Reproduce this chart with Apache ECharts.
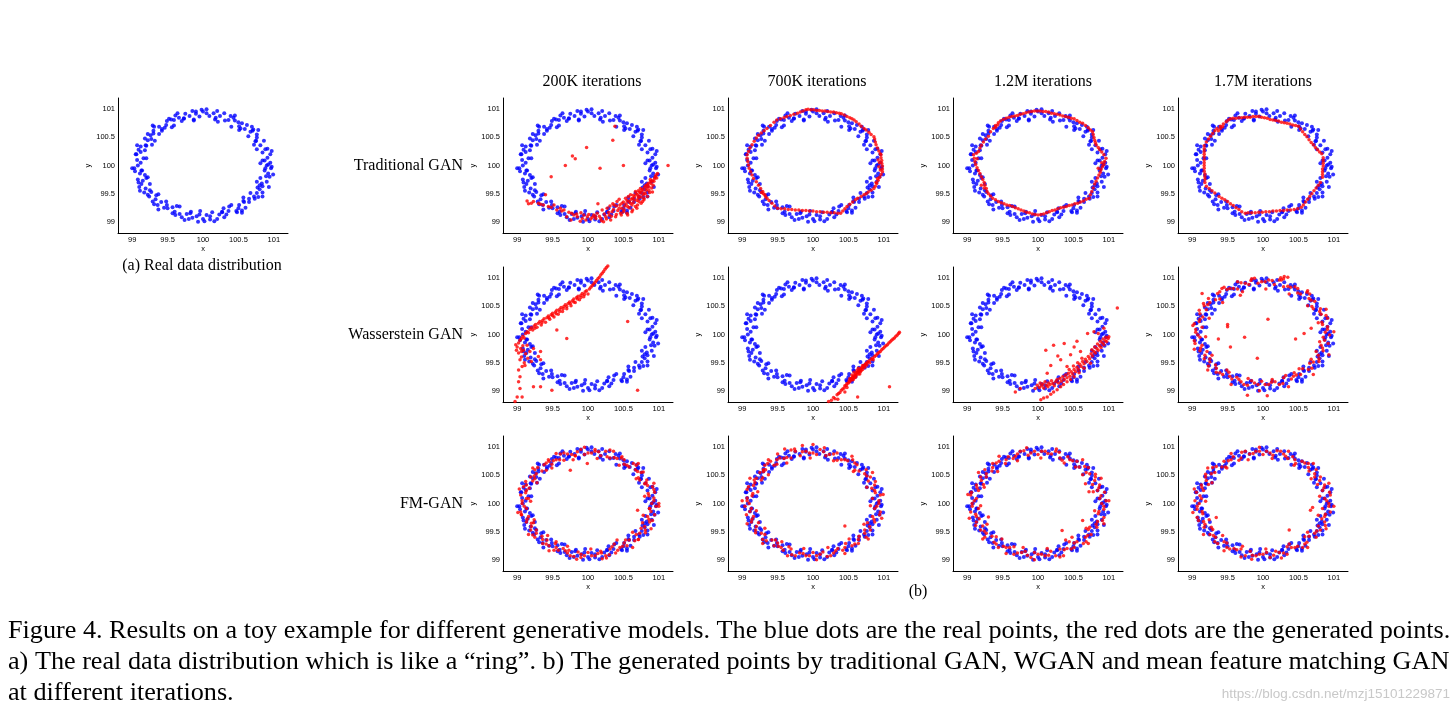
<!DOCTYPE html>
<html><head><meta charset="utf-8">
<script src="https://cdn.jsdelivr.net/npm/echarts@6/dist/echarts.min.js"></script>
<style>html,body{margin:0;padding:0;background:#fff}#c{width:1455px;height:713px}</style>
</head><body><div id="c"></div>
<script>
const tickValues=[99,99.5,100,100.5,101];
const axisRange=[98.8,101.2];
const columnTitles=['200K iterations','700K iterations','1.2M iterations','1.7M iterations'];
const rowTitles=['Traditional GAN','Wasserstein GAN','FM-GAN'];
const captionLines=['Figure 4. Results on a toy example for different generative models. The blue dots are the real points, the red dots are the generated points.',
'a) The real data distribution which is like a \u201cring\u201d. b) The generated points by traditional GAN, WGAN and mean feature matching GAN',
'at different iterations.'];

const realPoints=[[100.90,100.00],[100.95,100.05],[100.84,100.09],[100.91,100.14],[100.95,100.20],[100.84,100.23],[100.88,100.29],[100.76,100.29],[100.81,100.36],[100.86,100.44],[100.74,100.43],[100.76,100.50],[100.76,100.55],[100.64,100.52],[100.67,100.60],[100.69,100.69],[100.59,100.65],[100.53,100.66],[100.55,100.75],[100.50,100.77],[100.40,100.69],[100.43,100.85],[100.36,100.81],[100.31,100.80],[100.30,100.93],[100.24,100.88],[100.17,100.82],[100.15,100.93],[100.09,100.88],[100.05,100.93],
[100.00,100.96],[99.95,100.87],[99.90,100.92],[99.87,100.82],[99.81,100.88],[99.75,100.92],[99.73,100.84],[99.70,100.79],[99.61,100.89],[99.59,100.81],[99.59,100.71],[99.49,100.79],[99.48,100.72],[99.46,100.67],[99.38,100.69],[99.31,100.69],[99.38,100.56],[99.30,100.57],[99.26,100.54],[99.27,100.47],[99.18,100.48],[99.28,100.37],[99.19,100.36],[99.12,100.34],[99.18,100.27],[99.12,100.24],[99.05,100.20],[99.16,100.13],[99.07,100.10],[99.12,100.05],
[99.08,100.00],[99.03,99.95],[99.14,99.91],[99.11,99.86],[99.18,99.83],[99.08,99.75],[99.15,99.73],[99.13,99.67],[99.25,99.67],[99.19,99.59],[99.17,99.52],[99.27,99.53],[99.24,99.45],[99.34,99.47],[99.33,99.40],[99.31,99.31],[99.41,99.35],[99.48,99.36],[99.45,99.25],[99.50,99.24],[99.57,99.26],[99.57,99.15],[99.67,99.27],[99.67,99.14],[99.70,99.08],[99.77,99.14],[99.83,99.18],[99.85,99.07],[99.91,99.10],[99.95,99.13],
[100.00,99.05],[100.05,99.12],[100.10,99.10],[100.13,99.17],[100.20,99.05],[100.23,99.13],[100.27,99.18],[100.33,99.13],[100.36,99.19],[100.37,99.27],[100.47,99.19],[100.50,99.24],[100.51,99.30],[100.60,99.25],[100.57,99.37],[100.65,99.35],[100.65,99.41],[100.73,99.41],[100.67,99.51],[100.76,99.51],[100.84,99.52],[100.77,99.61],[100.84,99.63],[100.83,99.68],[100.90,99.71],[100.81,99.78],[100.89,99.81],[100.92,99.86],[100.87,99.91],[100.96,99.95],
[100.92,100.02],[100.88,99.95],[100.93,99.62],[100.80,99.58],[100.70,100.62],[100.45,100.80],[100.20,100.97],[99.98,100.99],[99.85,100.97],[99.66,100.85],[99.55,100.82],[99.42,100.62],[99.22,100.45],[99.09,100.28],[99.04,99.90],[99.10,99.62],[99.22,99.48],[99.36,99.30],[99.60,99.18],[99.80,99.05],[100.02,99.01],[100.30,99.08],[100.55,99.20],[100.72,99.45],[100.97,99.98],[100.62,100.72],[99.30,100.62],[99.20,99.78],[99.93,99.00],[100.40,99.30],
[100.81,100.04],[100.97,100.26],[100.72,100.37],[100.78,100.63],[100.51,100.63],[100.45,100.89],[100.21,100.78],[100.05,101.00],[99.87,100.80],[99.64,100.93],[99.56,100.68],[99.29,100.71],[99.32,100.44],[99.07,100.36],[99.20,100.13],[99.00,99.95],[99.22,99.79],[99.11,99.55],[99.37,99.49],[99.37,99.22],[99.63,99.28],[99.74,99.03],[99.96,99.19],[100.16,99.01],[100.29,99.24],[100.55,99.16],[100.57,99.43],[100.84,99.45],[100.76,99.71],[100.99,99.84],
[100.87,100.09],[100.91,100.30],[100.75,100.44],[100.71,100.64],[100.51,100.70],[100.39,100.88],[100.18,100.85],[99.90,100.96],[99.73,100.83],[99.52,100.83],[99.42,100.65],[99.22,100.56],[99.20,100.35],[99.06,100.20],[99.13,99.91],[99.09,99.70],[99.25,99.56],[99.29,99.36],[99.49,99.30],[99.61,99.12],[99.82,99.15],[100.10,99.04],[100.27,99.17],[100.48,99.17],[100.58,99.35],[100.78,99.44],[100.80,99.65],[100.94,99.80]];

const trad200K=[[100.38,100.70],[100.35,100.45],[99.98,100.32],[99.78,100.17],[99.82,100.12],[99.68,100.00],[100.17,99.95],[100.50,100.00],[101.13,100.00],[99.48,99.80],[100.14,99.32],
[99.14,99.37],[99.16,99.32],[99.23,99.36],[99.30,99.33],[99.40,99.48],[99.37,99.30],[99.44,99.27],[99.52,99.30],[99.61,99.24],[99.66,99.21],[99.73,99.17],[99.76,99.03],[99.80,99.12],[99.85,99.09],[99.89,99.01],[99.94,99.12],[99.99,99.09],[100.04,99.05],[100.08,99.12],[100.13,99.15],[100.18,99.06],[100.22,99.00],[100.20,99.21],[100.27,99.24],[100.30,99.12],[100.34,99.18],[100.37,99.30],[100.39,99.09],[100.44,99.24],[100.46,99.15],[100.48,99.33],[100.51,99.21],[100.53,99.42],[100.56,99.27],[100.58,99.36],[100.60,99.48],[100.63,99.21],[100.65,99.39],[100.67,99.54],[100.70,99.30],[100.72,99.45],[100.74,99.59],[100.77,99.36],[100.79,99.51],[100.82,99.65],[100.84,99.45],[100.86,99.56],[100.88,99.71],[100.91,99.53],[100.92,99.65],[100.94,99.77],[100.96,99.83],[100.98,99.86],[100.84,99.65],[100.41,99.36],[100.48,99.24],[100.56,99.12],[100.60,99.33],[100.67,99.27],[100.72,99.36],[100.79,99.42],[100.74,99.51],[100.63,99.42],[100.70,99.48],[100.82,99.56],[100.89,99.68],[100.25,99.09],[100.32,99.03],[100.11,99.06],[99.97,99.03],[99.70,99.09],[99.56,99.21],
[100.45,99.30],[100.52,99.28],[100.55,99.38],[100.62,99.30],[100.66,99.45],[100.69,99.38],[100.75,99.44],[100.78,99.48],[100.81,99.50],[100.86,99.62],[100.90,99.60],[100.93,99.72],[100.87,99.52],[100.76,99.55],[100.71,99.55],[100.64,99.34],[100.58,99.25],[100.50,99.18],[100.42,99.20],[100.36,99.22],[100.29,99.17],[100.23,99.14],[100.16,99.10],[100.06,99.08],[99.92,99.06],[99.84,99.14],[99.77,99.15],[99.63,99.19],[99.48,99.26],[99.33,99.31],[99.20,99.33],[99.90,99.16],[100.01,99.13],[100.10,99.10],
[100.50,99.35],[100.54,99.32],[100.57,99.45],[100.61,99.40],[100.64,99.47],[100.68,99.50],[100.71,99.42],[100.73,99.53],[100.77,99.58],[100.80,99.62],[100.83,99.60],[100.85,99.68],[100.88,99.75],[100.91,99.73],[100.95,99.80],[100.97,99.78],[100.79,99.39],[100.75,99.33],[100.69,99.24],[100.62,99.18],[100.55,99.15],[100.47,99.12],[100.40,99.13],[100.33,99.10],[100.26,99.05],[100.19,99.02],[100.44,99.40],[100.40,99.28],[100.35,99.32],[100.31,99.28]];

const trad700K=[[99.78,100.93],[99.82,100.95],[99.86,100.97],[99.90,100.99],[99.93,101.00],[99.97,100.99],[100.01,100.99],[100.05,100.98],[100.09,100.98],[100.13,100.97],[100.17,100.97],[100.21,100.96],[100.25,100.95],[100.29,100.95],[100.33,100.94],[100.37,100.93],[100.40,100.92],
[100.44,100.90],[100.48,100.87],[100.52,100.85],[100.55,100.83],[100.58,100.81],
[100.61,100.78],[100.65,100.74],[100.68,100.70],[100.72,100.66],[100.75,100.63],[100.79,100.59],[100.82,100.55],[100.86,100.51],
[100.87,100.47],[100.88,100.42],[100.89,100.37],[100.91,100.31],[100.93,100.26],[100.95,100.21],[100.96,100.19],
[100.96,100.14],[100.97,100.09],[100.97,100.04],[100.98,99.99],[100.98,99.94],[100.98,99.89],[100.94,100.05],[100.93,99.98],[100.95,99.92],[100.92,100.10],
[100.96,99.84],[100.94,99.79],[100.92,99.74],[100.90,99.68],[100.88,99.63],[100.86,99.59],[100.89,99.70],[100.91,99.77],
[100.82,99.56],[100.78,99.53],[100.75,99.50],[100.72,99.48],[100.68,99.45],[100.63,99.42],
[100.60,99.39],[100.56,99.35],[100.52,99.31],[100.48,99.27],[100.45,99.23],[100.42,99.19],[100.39,99.15],
[100.35,99.15],[100.30,99.16],[100.25,99.16],[100.20,99.17],[100.15,99.17],[100.10,99.18],[100.05,99.18],[100.00,99.19],[99.95,99.19],[99.90,99.20],[99.85,99.20],[99.80,99.21],[99.75,99.21],[99.70,99.22],[99.65,99.22],[99.60,99.23],[99.55,99.23],[99.50,99.24],
[99.46,99.28],[99.42,99.33],[99.38,99.38],[99.35,99.42],[99.32,99.48],[99.29,99.54],[99.26,99.59],[99.30,99.50],[99.27,99.52],[99.33,99.45],
[99.23,99.65],[99.20,99.71],[99.16,99.77],[99.14,99.83],[99.12,99.89],[99.10,99.95],[99.09,100.01],
[99.08,100.07],[99.07,100.13],[99.07,100.19],[99.09,100.25],[99.11,100.31],
[99.14,100.37],[99.17,100.43],[99.20,100.49],[99.23,100.54],[99.27,100.58],[99.31,100.62],[99.35,100.66],[99.40,100.71],[99.45,100.77],[99.49,100.81],
[99.54,100.83],[99.59,100.85],[99.63,100.87],[99.68,100.89],[99.73,100.91]];

const trad1200K=[[99.33,100.60],[99.37,100.66],[99.40,100.71],[99.44,100.76],[99.47,100.79],[99.51,100.82],[99.55,100.84],[99.59,100.86],[99.63,100.87],[99.67,100.88],[99.71,100.89],[99.75,100.91],[99.79,100.92],[99.83,100.94],[99.87,100.95],[99.91,100.96],[99.95,100.97],[99.99,100.97],[100.03,100.97],[100.07,100.96],[100.11,100.96],[100.15,100.95],[100.19,100.93],[100.23,100.92],[100.27,100.91],[100.31,100.90],[100.35,100.88],[100.39,100.87],[100.43,100.86],[100.47,100.84],[100.51,100.83],[100.55,100.80],[100.59,100.77],[100.63,100.75],[100.67,100.71],[100.71,100.67],[100.74,100.63],[100.77,100.60],[100.78,100.55],[100.79,100.50],[100.80,100.45],[100.81,100.41],[100.82,100.37],[100.85,100.32],[100.87,100.28],[100.90,100.24],[100.93,100.19],[100.96,100.13],[100.94,100.07],[100.93,100.02],[100.91,99.98],[100.89,99.93],[100.88,99.88],[100.86,99.83],[100.84,99.78],[100.82,99.72],[100.80,99.67],[100.78,99.60],[100.76,99.54],[100.74,99.48],[100.72,99.42],[100.68,99.40],[100.64,99.37],[100.60,99.35],[100.56,99.33],[100.52,99.32],[100.48,99.30],[100.44,99.29],[100.40,99.27],[100.36,99.26],[100.32,99.25],[100.28,99.23],[100.24,99.21],[100.20,99.20],[100.16,99.18],[100.12,99.16],[100.08,99.14],[100.04,99.13],[100.00,99.12],[99.96,99.13],[99.92,99.14],[99.88,99.16],[99.84,99.17],[99.80,99.19],[99.76,99.21],[99.72,99.23],[99.68,99.25],[99.64,99.27],[99.60,99.29],[99.56,99.30],[99.52,99.32],[99.48,99.34],[99.44,99.36],[99.40,99.39],[99.36,99.42],[99.33,99.46],[99.30,99.50],[99.28,99.54],[99.27,99.59],[99.25,99.65],[99.24,99.70],[99.22,99.75],[99.20,99.80],[99.18,99.86],[99.16,99.91],[99.14,99.96],[99.12,100.02],[99.11,100.07],[99.10,100.13],[99.09,100.19],[99.13,100.22],[99.16,100.25],[99.18,100.31],[99.20,100.36],[99.23,100.42],[99.26,100.47],[99.30,100.52],[99.20,99.65],[99.24,99.60],[99.14,100.12],[100.90,100.05],[100.85,99.95],[99.40,100.68],[99.43,100.72]];

const trad1700K=[[99.54,100.83],[99.58,100.84],[99.62,100.84],[99.66,100.85],[99.70,100.85],[99.74,100.86],[99.78,100.86],[99.82,100.86],[99.86,100.87],[99.90,100.87],[99.94,100.87],
[99.98,100.86],[100.02,100.85],[100.06,100.84],[100.10,100.82],[100.14,100.81],[100.18,100.80],[100.22,100.79],[100.26,100.77],[100.30,100.76],[100.34,100.75],[100.38,100.74],[100.42,100.72],[100.46,100.71],[100.50,100.70],
[100.53,100.65],[100.56,100.60],[100.59,100.55],[100.62,100.51],[100.65,100.46],[100.68,100.41],[100.71,100.37],[100.74,100.32],[100.77,100.28],[100.80,100.24],[100.83,100.21],
[100.85,100.14],[100.85,100.09],[100.85,100.04],[100.85,99.99],[100.84,99.94],[100.84,99.89],[100.84,99.84],[100.84,99.79],
[100.81,99.70],[100.78,99.65],[100.75,99.60],[100.72,99.55],[100.69,99.50],[100.66,99.45],[100.63,99.40],[100.60,99.35],[100.57,99.30],[100.54,99.26],
[100.49,99.23],[100.44,99.22],[100.39,99.21],[100.34,99.21],[100.29,99.20],[100.24,99.20],[100.19,99.19],[100.14,99.19],[100.09,99.18],[100.04,99.18],[99.99,99.17],[99.94,99.17],[99.89,99.16],[99.84,99.16],[99.79,99.16],[99.75,99.15],
[99.70,99.18],[99.66,99.22],[99.62,99.25],[99.58,99.29],[99.54,99.32],[99.50,99.36],[99.46,99.39],[99.42,99.42],[99.38,99.45],
[99.32,99.51],[99.28,99.55],[99.24,99.59],[99.20,99.63],
[99.18,99.70],[99.18,99.75],[99.18,99.80],[99.18,99.85],[99.17,99.90],[99.17,99.95],[99.17,100.00],[99.17,100.05],[99.17,100.10],[99.17,100.15],[99.17,100.20],[99.17,100.25],[99.17,100.30],[99.17,100.35],
[99.20,100.42],[99.23,100.47],[99.26,100.52],[99.29,100.57],[99.32,100.62],[99.35,100.66],
[99.40,100.70],[99.44,100.74],[99.48,100.78],[99.51,100.81],[99.37,100.62],[99.40,100.66],[99.43,100.69]];

const wgan200K=[[99.00,99.78],[98.98,99.82],[99.02,99.85],[99.04,99.90],[99.06,99.93],[99.08,99.97],[99.10,99.94],[99.12,100.02],[99.14,100.05],[99.16,100.03],[99.18,100.09],[99.20,100.12],[99.22,100.08],[99.24,100.15],[99.26,100.18],[99.28,100.13],[99.30,100.20],[99.32,100.23],[99.34,100.17],[99.36,100.25],[99.38,100.28],[99.40,100.22],[99.42,100.30],[99.44,100.33],[99.46,100.27],[99.48,100.35],[99.50,100.38],[99.52,100.31],[99.54,100.40],[99.56,100.43],[99.58,100.36],[99.60,100.45],[99.62,100.48],[99.64,100.41],[99.66,100.50],[99.68,100.53],[99.70,100.46],[99.72,100.55],[99.74,100.58],[99.76,100.51],[99.78,100.60],[99.80,100.63],[99.82,100.57],[99.84,100.66],[99.86,100.68],[99.88,100.62],[99.90,100.70],[99.92,100.73],[99.94,100.67],[99.96,100.76],[99.98,100.78],[100.00,100.72],[100.02,100.81],[100.04,100.84],[100.06,100.87],[100.08,100.90],[100.10,100.93],[100.12,100.96],[100.14,100.99],[100.16,101.02],[100.18,101.06],[100.20,101.09],[100.22,101.12],[100.24,101.16],[100.26,101.19],[100.28,101.22],
[99.45,100.30],[99.55,100.37],[99.65,100.46],[99.75,100.55],[99.85,100.63],[99.95,100.71],[99.50,100.34],[99.60,100.41],[99.70,100.50],[99.80,100.58],[99.90,100.66],[99.35,100.21],[99.25,100.11],
[99.02,99.67],[99.04,99.55],[99.07,99.43],[99.02,99.37],[99.09,99.72],[99.14,99.81],[99.18,99.70],[99.23,99.75],[99.33,99.70],[99.30,99.61],[99.02,99.16],[99.04,99.04],[99.00,98.89],[98.97,98.81],[99.23,99.07],[99.33,99.07],[99.49,99.01],[99.07,98.89],[99.70,99.93],[99.56,100.08],[100.56,100.23],[100.70,99.01],[99.33,99.55],[99.06,99.60],[99.10,99.50],[99.12,99.66],[99.05,99.75],[99.08,99.80],[99.15,99.58],[99.20,99.52],[99.04,99.25],[99.11,99.45],[98.99,99.72],[99.06,99.70]];

const wgan700K=[[100.22,98.81],[100.26,98.83],[100.29,98.88],[100.31,98.86],[100.34,98.93],[100.36,98.95],[100.38,98.97],[100.40,99.01],[100.42,99.03],[100.44,99.05],[100.45,99.09],[100.47,99.10],[100.48,99.13],[100.50,99.14],[100.51,99.18],[100.52,99.16],[100.53,99.20],[100.54,99.22],[100.55,99.19],[100.56,99.24],[100.57,99.26],[100.58,99.23],[100.59,99.28],[100.60,99.30],[100.61,99.27],[100.62,99.32],[100.63,99.33],[100.64,99.30],[100.65,99.35],[100.66,99.37],[100.67,99.34],[100.68,99.40],[100.69,99.41],[100.70,99.38],[100.71,99.43],[100.72,99.45],[100.73,99.42],[100.74,99.47],[100.75,99.49],[100.76,99.46],[100.77,99.51],[100.79,99.53],[100.80,99.50],[100.82,99.56],[100.84,99.58],[100.85,99.55],[100.87,99.61],[100.89,99.63],[100.91,99.66],[100.93,99.68],[100.95,99.70],[100.97,99.73],[100.99,99.75],[101.01,99.78],[101.03,99.80],[101.05,99.82],[101.07,99.85],[101.09,99.87],[101.11,99.90],[101.13,99.92],[101.15,99.94],[101.17,99.97],[101.19,99.99],[101.21,100.02],[101.22,100.04],
[100.55,99.28],[100.58,99.33],[100.62,99.36],[100.66,99.30],[100.60,99.24],[100.52,99.22],[100.64,99.40],[100.68,99.36],[100.70,99.45],[100.57,99.20],
[101.08,99.07],[100.63,98.89],[100.45,98.98],[100.35,98.85],[100.48,99.06]];

const wgan1200K=[[99.99,99.10],[100.02,99.06],[100.03,99.14],[100.05,99.09],[100.07,99.12],[100.08,99.05],[100.10,99.16],[100.12,99.10],[100.14,99.07],[100.15,99.14],[100.17,99.11],[100.19,99.18],[100.21,99.13],[100.23,99.09],[100.25,99.16],[100.27,99.20],[100.29,99.14],[100.31,99.22],[100.33,99.17],[100.35,99.25],[100.37,99.20],[100.39,99.28],[100.41,99.23],[100.43,99.31],[100.45,99.26],[100.47,99.34],[100.49,99.30],[100.51,99.38],[100.53,99.34],[100.55,99.42],[100.57,99.38],[100.59,99.47],[100.61,99.43],[100.63,99.52],[100.65,99.48],[100.67,99.56],[100.69,99.52],[100.71,99.61],[100.73,99.57],[100.75,99.66],[100.77,99.62],[100.79,99.70],[100.81,99.67],[100.83,99.75],[100.85,99.72],[100.87,99.80],[100.89,99.77],[100.91,99.85],[100.93,99.82],[100.95,99.89],[100.97,99.87],[100.99,99.93],[101.00,99.96],[100.96,99.95],[100.92,99.92],[100.88,99.88],[100.84,99.83],[100.80,99.78],[100.76,99.73],[100.62,99.58],[100.56,99.50],[100.50,99.44],[100.44,99.38],
[100.11,99.72],[100.22,99.81],[100.37,99.84],[100.51,99.78],[100.70,100.02],[101.12,100.47],[100.32,99.55],[100.13,99.31],[100.41,99.43],[100.79,100.05],[100.93,100.11],[100.28,99.62],[100.46,99.64],[100.60,99.70],[100.18,99.45],[100.55,99.88],[100.85,100.02],
[100.04,98.84],[100.13,98.89],[100.22,98.98],[100.32,99.07],[100.41,99.16],[100.51,99.25],[100.65,99.40],[100.74,99.49],[100.08,98.87],[100.18,98.94],[100.27,99.02],[100.36,99.11],[100.46,99.20],[100.58,99.32],[99.68,98.98],[99.75,99.04],[99.96,99.04]];

const wgan1700K=[[100.88,100.04],[100.91,100.14],[100.83,100.22],[100.89,100.34],[100.80,100.41],[100.71,100.46],[100.73,100.59],[100.65,100.64],[100.62,100.75],[100.49,100.74],[100.45,100.85],[100.35,100.86],[100.29,100.99],[100.16,100.89],[100.08,100.97],
[99.98,100.94],[99.88,101.00],[99.80,100.89],[99.69,100.92],[99.64,100.81],[99.53,100.82],[99.42,100.82],[99.36,100.73],[99.33,100.62],[99.25,100.57],[99.17,100.51],[99.10,100.43],[99.15,100.31],[99.10,100.23],[99.14,100.13],
[99.05,100.04],[99.11,99.95],[99.04,99.84],[99.12,99.76],[99.21,99.70],[99.17,99.57],[99.25,99.51],[99.33,99.46],[99.34,99.33],[99.43,99.29],[99.53,99.26],[99.63,99.24],[99.69,99.16],[99.78,99.10],[99.88,99.14],
[99.98,99.17],[100.08,99.11],[100.17,99.16],[100.28,99.13],[100.32,99.27],[100.43,99.26],[100.53,99.29],[100.56,99.39],[100.69,99.40],[100.71,99.51],[100.79,99.57],[100.75,99.70],[100.84,99.76],[100.92,99.84],[100.85,99.95],
[100.91,100.09],[100.84,100.18],[100.91,100.29],[100.82,100.36],[100.81,100.46],[100.69,100.50],[100.68,100.61],[100.66,100.72],[100.53,100.72],[100.49,100.82],[100.39,100.84],[100.29,100.85],[100.23,100.97],[100.13,100.96],[100.03,100.94],
[99.93,100.91],[99.83,100.96],[99.75,100.91],[99.64,100.94],[99.58,100.82],[99.49,100.80],[99.39,100.76],[99.39,100.63],[99.23,100.64],[99.22,100.53],[99.20,100.44],[99.11,100.37],[99.11,100.27],[99.03,100.19],[99.05,100.09],
[99.08,99.99],[99.03,99.89],[99.14,99.81],[99.11,99.71],[99.18,99.63],[99.25,99.57],[99.23,99.44],[99.34,99.40],[99.39,99.32],[99.52,99.33],[99.56,99.21],[99.66,99.20],[99.73,99.11],[99.84,99.18],[99.93,99.11],
[100.03,99.11],[100.12,99.15],[100.23,99.11],[100.29,99.23],[100.40,99.21],[100.47,99.28],[100.51,99.39],[100.64,99.38],[100.66,99.49],[100.79,99.52],[100.78,99.63],[100.85,99.71],[100.82,99.81],[100.87,99.90],[100.94,99.99],
[99.19,99.96],[99.03,99.74],[99.28,99.63],[99.22,99.37],[99.49,99.37],[99.55,99.11],[99.79,99.22],[99.95,99.00],[100.13,99.20],[100.36,99.07],[100.44,99.32],[100.71,99.29],[100.68,99.56],[100.93,99.64],[100.80,99.87],[101.00,100.05],[100.78,100.21],[100.89,100.45],[100.63,100.51],[100.63,100.78],[100.37,100.72],[100.26,100.97],[100.04,100.81],[99.84,100.99],[99.71,100.76],[99.45,100.84],[99.43,100.57],[99.16,100.55],[99.24,100.29],[99.01,100.16],
[99.14,100.73],[99.50,100.14],[99.50,100.18],[99.37,99.92],[99.54,99.78],[99.74,99.95],[99.92,99.58],[100.07,100.27],[100.58,100.02],[100.46,99.92],[100.68,100.11],[99.78,98.92],[100.06,98.91],[99.68,100.70],[100.30,101.03],[100.35,101.02],[100.25,101.01]];

const fm200K=[[100.90,100.00],[100.93,100.10],[100.85,100.18],[100.91,100.30],[100.82,100.37],[100.73,100.42],[100.75,100.55],[100.67,100.60],[100.64,100.71],[100.51,100.70],[100.47,100.81],[100.37,100.82],[100.31,100.95],[100.18,100.85],[100.10,100.93],
[100.00,100.90],[99.90,100.96],[99.82,100.85],[99.71,100.88],[99.66,100.77],[99.55,100.78],[99.44,100.78],[99.38,100.69],[99.35,100.58],[99.27,100.53],[99.19,100.47],[99.12,100.39],[99.17,100.27],[99.12,100.19],[99.16,100.09],
[99.07,100.00],[99.13,99.91],[99.06,99.80],[99.14,99.72],[99.23,99.66],[99.19,99.53],[99.27,99.47],[99.35,99.42],[99.36,99.29],[99.45,99.25],[99.55,99.22],[99.65,99.20],[99.71,99.12],[99.80,99.06],[99.90,99.10],
[100.00,99.13],[100.10,99.07],[100.19,99.12],[100.30,99.09],[100.34,99.23],[100.45,99.22],[100.55,99.25],[100.58,99.35],[100.71,99.36],[100.73,99.47],[100.81,99.53],[100.77,99.66],[100.86,99.72],[100.94,99.80],[100.87,99.91],
[100.93,100.05],[100.86,100.14],[100.93,100.25],[100.84,100.32],[100.83,100.42],[100.71,100.46],[100.70,100.57],[100.68,100.68],[100.55,100.68],[100.51,100.78],[100.41,100.80],[100.31,100.81],[100.25,100.93],[100.15,100.92],[100.05,100.90],
[99.95,100.87],[99.85,100.92],[99.77,100.87],[99.66,100.90],[99.60,100.78],[99.51,100.76],[99.41,100.72],[99.41,100.59],[99.25,100.60],[99.24,100.49],[99.22,100.40],[99.13,100.33],[99.13,100.23],[99.05,100.15],[99.07,100.05],
[99.10,99.95],[99.05,99.85],[99.16,99.77],[99.13,99.67],[99.20,99.59],[99.27,99.53],[99.25,99.40],[99.36,99.36],[99.41,99.28],[99.54,99.29],[99.58,99.17],[99.68,99.16],[99.75,99.07],[99.86,99.14],[99.95,99.07],
[100.05,99.07],[100.14,99.11],[100.25,99.07],[100.31,99.19],[100.42,99.17],[100.49,99.24],[100.53,99.35],[100.66,99.34],[100.68,99.45],[100.81,99.48],[100.80,99.59],[100.87,99.67],[100.84,99.77],[100.89,99.86],[100.96,99.95],
[99.19,100.04],[99.03,100.26],[99.28,100.37],[99.22,100.63],[99.49,100.63],[99.55,100.89],[99.79,100.78],[99.95,101.00],[100.13,100.80],[100.36,100.93],[100.44,100.68],[100.71,100.71],[100.68,100.44],[100.93,100.36],[100.80,100.13],[101.00,99.95],[100.78,99.79],[100.89,99.55],[100.63,99.49],[100.63,99.22],[100.37,99.28],[100.26,99.03],[100.04,99.19],[99.84,99.01],[99.71,99.24],[99.45,99.16],[99.43,99.43],[99.16,99.45],[99.24,99.71],[99.01,99.84],
[99.13,100.09],[99.09,100.30],[99.25,100.44],[99.29,100.64],[99.49,100.70],[99.61,100.88],[99.82,100.85],[100.10,100.96],[100.27,100.83],[100.48,100.83],[100.58,100.65],[100.78,100.56],[100.80,100.35],[100.94,100.20],[100.87,99.91],[100.91,99.70],[100.75,99.56],[100.71,99.36],[100.51,99.30],[100.39,99.12],[100.18,99.15],[99.90,99.04],[99.73,99.17],[99.52,99.17],[99.42,99.35],[99.22,99.44],[99.20,99.65],[99.06,99.80],
[99.75,100.59],[99.99,100.71],[100.70,99.88],[100.41,99.35],[101.00,100.00],[99.55,99.32],[100.20,99.02],[99.45,100.75]];

const fm700K=[[99.10,100.00],[99.07,100.10],[99.15,100.18],[99.09,100.30],[99.18,100.37],[99.27,100.42],[99.25,100.55],[99.33,100.60],[99.36,100.71],[99.49,100.70],[99.53,100.81],[99.63,100.82],[99.69,100.95],[99.82,100.85],[99.90,100.93],
[100.00,100.90],[100.10,100.96],[100.18,100.85],[100.29,100.88],[100.34,100.77],[100.45,100.78],[100.56,100.78],[100.62,100.69],[100.65,100.58],[100.73,100.53],[100.81,100.47],[100.88,100.39],[100.83,100.27],[100.88,100.19],[100.84,100.09],
[100.93,100.00],[100.87,99.91],[100.94,99.80],[100.86,99.72],[100.77,99.66],[100.81,99.53],[100.73,99.47],[100.65,99.42],[100.64,99.29],[100.55,99.25],[100.45,99.22],[100.35,99.20],[100.29,99.12],[100.20,99.06],[100.10,99.10],
[100.00,99.13],[99.90,99.07],[99.81,99.12],[99.70,99.09],[99.66,99.23],[99.55,99.22],[99.45,99.25],[99.42,99.35],[99.29,99.36],[99.27,99.47],[99.19,99.53],[99.23,99.66],[99.14,99.72],[99.06,99.80],[99.13,99.91],
[99.07,100.05],[99.14,100.14],[99.07,100.25],[99.16,100.32],[99.17,100.42],[99.29,100.46],[99.30,100.57],[99.32,100.68],[99.45,100.68],[99.49,100.78],[99.59,100.80],[99.69,100.81],[99.75,100.93],[99.85,100.92],[99.95,100.90],
[100.05,100.87],[100.15,100.92],[100.23,100.87],[100.34,100.90],[100.40,100.78],[100.49,100.76],[100.59,100.72],[100.59,100.59],[100.75,100.60],[100.76,100.49],[100.78,100.40],[100.87,100.33],[100.87,100.23],[100.95,100.15],[100.93,100.05],
[100.90,99.95],[100.95,99.85],[100.84,99.77],[100.87,99.67],[100.80,99.59],[100.73,99.53],[100.75,99.40],[100.64,99.36],[100.59,99.28],[100.46,99.29],[100.42,99.17],[100.32,99.16],[100.25,99.07],[100.14,99.14],[100.05,99.07],
[99.95,99.07],[99.86,99.11],[99.75,99.07],[99.69,99.19],[99.58,99.17],[99.51,99.24],[99.47,99.35],[99.34,99.34],[99.32,99.45],[99.19,99.48],[99.20,99.59],[99.13,99.67],[99.16,99.77],[99.11,99.86],[99.04,99.95],
[100.81,99.96],[100.97,99.74],[100.72,99.63],[100.78,99.37],[100.51,99.37],[100.45,99.11],[100.21,99.22],[100.05,99.00],[99.87,99.20],[99.64,99.07],[99.56,99.32],[99.29,99.29],[99.32,99.56],[99.07,99.64],[99.20,99.87],[99.00,100.05],[99.22,100.21],[99.11,100.45],[99.37,100.51],[99.37,100.78],[99.63,100.72],[99.74,100.97],[99.96,100.81],[100.16,100.99],[100.29,100.76],[100.55,100.84],[100.57,100.57],[100.84,100.55],[100.76,100.29],[100.99,100.16],
[99.20,100.45],[99.30,100.60],[99.40,100.75],[99.50,100.88],[99.60,100.97],[99.85,101.03],[100.00,101.05],[100.45,99.60],[99.50,99.30]];

const fm1200K=[[100.90,100.00],[100.93,99.90],[100.85,99.82],[100.91,99.70],[100.82,99.63],[100.73,99.58],[100.75,99.45],[100.67,99.40],[100.64,99.29],[100.51,99.30],[100.47,99.19],[100.37,99.18],[100.31,99.05],[100.18,99.15],[100.10,99.07],
[100.00,99.10],[99.90,99.04],[99.82,99.15],[99.71,99.12],[99.66,99.23],[99.55,99.22],[99.44,99.22],[99.38,99.31],[99.35,99.42],[99.27,99.47],[99.19,99.53],[99.12,99.61],[99.17,99.73],[99.12,99.81],[99.16,99.91],
[99.07,100.00],[99.13,100.09],[99.06,100.20],[99.14,100.28],[99.23,100.34],[99.19,100.47],[99.27,100.53],[99.35,100.58],[99.36,100.71],[99.45,100.75],[99.55,100.78],[99.65,100.80],[99.71,100.88],[99.80,100.94],[99.90,100.90],
[100.00,100.87],[100.10,100.93],[100.19,100.88],[100.30,100.91],[100.34,100.77],[100.45,100.78],[100.55,100.75],[100.58,100.65],[100.71,100.64],[100.73,100.53],[100.81,100.47],[100.77,100.34],[100.86,100.28],[100.94,100.20],[100.87,100.09],
[100.93,99.95],[100.86,99.86],[100.93,99.75],[100.84,99.68],[100.83,99.58],[100.71,99.54],[100.70,99.43],[100.68,99.32],[100.55,99.32],[100.51,99.22],[100.41,99.20],[100.31,99.19],[100.25,99.07],[100.15,99.08],[100.05,99.10],
[99.95,99.13],[99.85,99.08],[99.77,99.13],[99.66,99.10],[99.60,99.22],[99.51,99.24],[99.41,99.28],[99.41,99.41],[99.25,99.40],[99.24,99.51],[99.22,99.60],[99.13,99.67],[99.13,99.77],[99.05,99.85],[99.07,99.95],
[99.10,100.05],[99.05,100.15],[99.16,100.23],[99.13,100.33],[99.20,100.41],[99.27,100.47],[99.25,100.60],[99.36,100.64],[99.41,100.72],[99.54,100.71],[99.58,100.83],[99.68,100.84],[99.75,100.93],[99.86,100.86],[99.95,100.93],
[100.05,100.93],[100.14,100.89],[100.25,100.93],[100.31,100.81],[100.42,100.83],[100.49,100.76],[100.53,100.65],[100.66,100.66],[100.68,100.55],[100.81,100.52],[100.80,100.41],[100.87,100.33],[100.84,100.23],[100.89,100.14],[100.96,100.05],
[99.19,99.96],[99.03,99.74],[99.28,99.63],[99.22,99.37],[99.49,99.37],[99.55,99.11],[99.79,99.22],[99.95,99.00],[100.13,99.20],[100.36,99.07],[100.44,99.32],[100.71,99.29],[100.68,99.56],[100.93,99.64],[100.80,99.87],[101.00,100.05],[100.78,100.21],[100.89,100.45],[100.63,100.51],[100.63,100.78],[100.37,100.72],[100.26,100.97],[100.04,100.81],[99.84,100.99],[99.71,100.76],[99.45,100.84],[99.43,100.57],[99.16,100.55],[99.24,100.29],[99.01,100.16],
[99.30,99.76],[100.63,99.70],[100.34,99.52],[100.67,100.35],[100.72,100.21],[100.39,99.35],[100.48,99.40]];

const fm1700K=[[99.10,100.00],[99.07,99.90],[99.15,99.82],[99.09,99.70],[99.18,99.63],[99.27,99.58],[99.25,99.45],[99.33,99.40],[99.36,99.29],[99.49,99.30],[99.53,99.19],[99.63,99.18],[99.69,99.05],[99.82,99.15],[99.90,99.07],
[100.00,99.10],[100.10,99.04],[100.18,99.15],[100.29,99.12],[100.34,99.23],[100.45,99.22],[100.56,99.22],[100.62,99.31],[100.65,99.42],[100.73,99.47],[100.81,99.53],[100.88,99.61],[100.83,99.73],[100.88,99.81],[100.84,99.91],
[100.93,100.00],[100.87,100.09],[100.94,100.20],[100.86,100.28],[100.77,100.34],[100.81,100.47],[100.73,100.53],[100.65,100.58],[100.64,100.71],[100.55,100.75],[100.45,100.78],[100.35,100.80],[100.29,100.88],[100.20,100.94],[100.10,100.90],
[100.00,100.87],[99.90,100.93],[99.81,100.88],[99.70,100.91],[99.66,100.77],[99.55,100.78],[99.45,100.75],[99.42,100.65],[99.29,100.64],[99.27,100.53],[99.19,100.47],[99.23,100.34],[99.14,100.28],[99.06,100.20],[99.13,100.09],
[99.07,99.95],[99.14,99.86],[99.07,99.75],[99.16,99.68],[99.17,99.58],[99.29,99.54],[99.30,99.43],[99.32,99.32],[99.45,99.32],[99.49,99.22],[99.59,99.20],[99.69,99.19],[99.75,99.07],[99.85,99.08],[99.95,99.10],
[100.05,99.13],[100.15,99.08],[100.23,99.13],[100.34,99.10],[100.40,99.22],[100.49,99.24],[100.59,99.28],[100.59,99.41],[100.75,99.40],[100.76,99.51],[100.78,99.60],[100.87,99.67],[100.87,99.77],[100.95,99.85],[100.93,99.95],
[100.90,100.05],[100.95,100.15],[100.84,100.23],[100.87,100.33],[100.80,100.41],[100.73,100.47],[100.75,100.60],[100.64,100.64],[100.59,100.72],[100.46,100.71],[100.42,100.83],[100.32,100.84],[100.25,100.93],[100.14,100.86],[100.05,100.93],
[99.95,100.93],[99.86,100.89],[99.75,100.93],[99.69,100.81],[99.58,100.83],[99.51,100.76],[99.47,100.65],[99.34,100.66],[99.32,100.55],[99.19,100.52],[99.20,100.41],[99.13,100.33],[99.16,100.23],[99.11,100.14],[99.04,100.05],
[99.19,100.04],[99.03,100.26],[99.28,100.37],[99.22,100.63],[99.49,100.63],[99.55,100.89],[99.79,100.78],[99.95,101.00],[100.13,100.80],[100.36,100.93],[100.44,100.68],[100.71,100.71],[100.68,100.44],[100.93,100.36],[100.80,100.13],[101.00,99.95],[100.78,99.79],[100.89,99.55],[100.63,99.49],[100.63,99.22],[100.37,99.28],[100.26,99.03],[100.04,99.19],[99.84,99.01],[99.71,99.24],[99.45,99.16],[99.43,99.43],[99.16,99.45],[99.24,99.71],[99.01,99.84],
[99.34,99.75],[100.37,99.53],[100.67,99.88],[100.70,99.93]];

const generated=[[trad200K,trad700K,trad1200K,trad1700K],[wgan200K,wgan700K,wgan1200K,wgan1700K],[fm200K,fm700K,fm1200K,fm1700K]];

// ---------- layout ----------
const PW=170, PH=135;
const panels=[{left:118,top:98,red:null}];
for(let r=0;r<3;r++)for(let c=0;c<4;c++)panels.push({left:503+225*c,top:98+169*r,red:generated[r][c]});

const grid=[],xAxis=[],yAxis=[],series=[];
const lbl={fontSize:7.5,color:'#000',fontFamily:'"Liberation Sans", Arial, sans-serif'};
panels.forEach((p,i)=>{
  grid.push({left:p.left,top:p.top,width:PW,height:PH,containLabel:false});
  xAxis.push({gridIndex:i,type:'value',min:axisRange[0],max:axisRange[1],
    axisLine:{show:true,onZero:false,lineStyle:{color:'#000',width:1}},axisTick:{show:false},splitLine:{show:false},
    axisLabel:Object.assign({customValues:tickValues,margin:3},lbl),
    name:'x',nameLocation:'middle',nameGap:11,nameTextStyle:Object.assign({},lbl)});
  yAxis.push({gridIndex:i,type:'value',min:axisRange[0],max:axisRange[1],
    axisLine:{show:true,onZero:false,lineStyle:{color:'#000',width:1}},axisTick:{show:false},splitLine:{show:false},
    axisLabel:Object.assign({customValues:tickValues,margin:3},lbl),
    name:'y',nameLocation:'middle',nameGap:25,nameRotate:90,nameTextStyle:Object.assign({},lbl)});
  series.push({type:'scatter',xAxisIndex:i,yAxisIndex:i,data:realPoints,symbol:'circle',symbolSize:4,clip:false,
    itemStyle:{color:'#0000ff'},silent:true,z:2});
  if(p.red)series.push({type:'scatter',xAxisIndex:i,yAxisIndex:i,data:p.red,symbol:'circle',symbolSize:3.5,clip:false,
    itemStyle:{color:'#ff0000'},silent:true,z:3});
});

const serif='"Liberation Serif","Times New Roman",serif';
const graphic=[];
function txt(t,x,y,size,align,fill,fam){graphic.push({type:'text',x:x,y:y,silent:true,
  style:{text:t,font:size+'px '+(fam||serif),fill:fill||'#000',align:align||'center',verticalAlign:'middle',textAlign:align||'center',textVerticalAlign:'middle'}});}
const colCenters=[592,817,1043,1263];
columnTitles.forEach((t,i)=>txt(t,colCenters[i],82,16));
rowTitles.forEach((t,i)=>txt(t,463,166+169*i,16,'right'));
txt('(a) Real data distribution',202,266,16);
txt('(b)',918,592,16);
captionLines.forEach((t,i)=>txt(t,8,631+31*i,26.2,'left'));
txt('https://blog.csdn.net/mzj15101229871',1450,694,13.5,'right','#c8c8c8','"Liberation Sans",Arial,sans-serif');

const chart=echarts.init(document.getElementById('c'),null,{renderer:'canvas'});
chart.setOption({animation:false,backgroundColor:'#fff',grid,xAxis,yAxis,series,graphic});
</script></body></html>
